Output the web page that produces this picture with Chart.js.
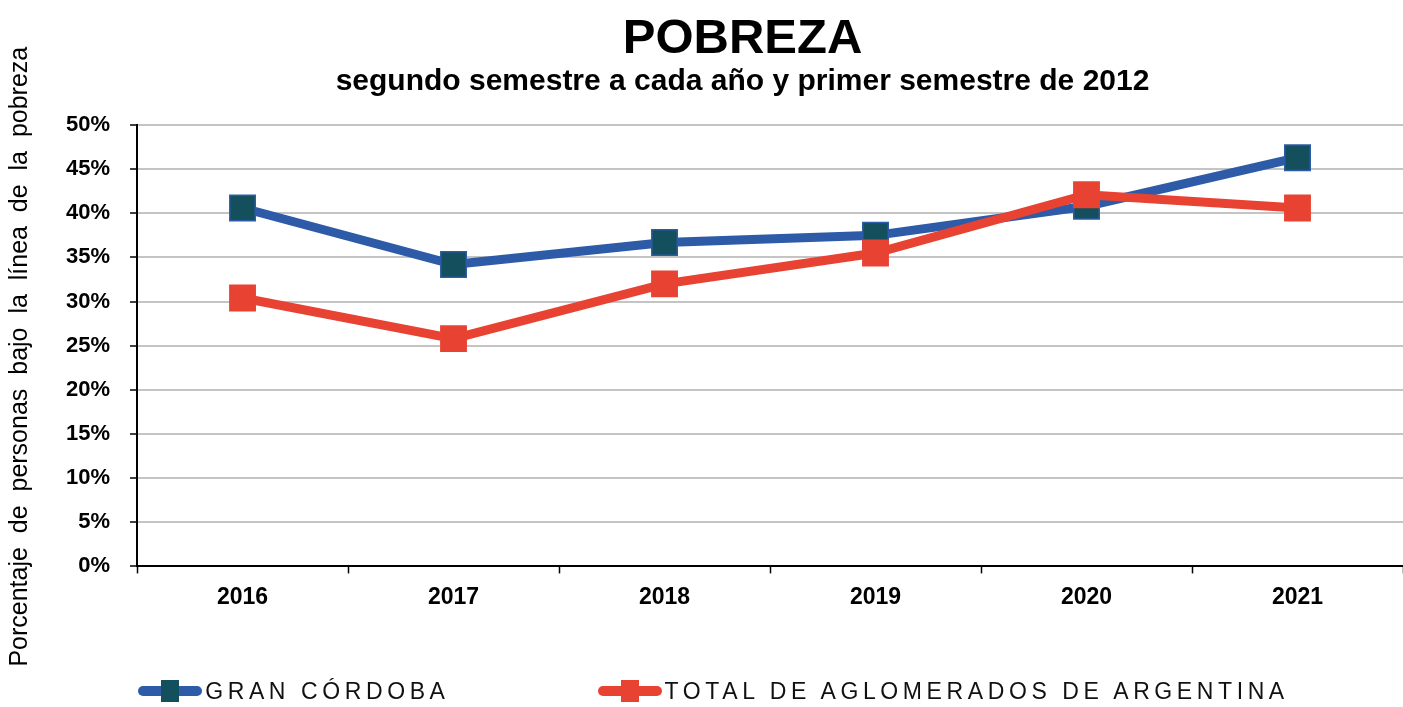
<!DOCTYPE html>
<html>
<head>
<meta charset="utf-8">
<script src="https://cdn.jsdelivr.net/npm/chart.js@4/dist/chart.umd.min.js"></script>
<style>
  html, body { margin: 0; padding: 0; background: #fff; overflow: hidden; }
  #wrap { position: relative; width: 1403px; height: 707px; }
  canvas { display: block; }
  #legend {
    position: absolute; left: 0; top: 676px; width: 1403px; height: 30px;
    box-sizing: border-box; padding-left: 24px;
    display: flex; justify-content: center; align-items: center; gap: 148px;
    font-family: Arial, "Liberation Sans", sans-serif; font-size: 23px;
    letter-spacing: 4.6px; color: #111;
  }
  .item { display: flex; align-items: center; }
  .mark { position: relative; width: 64px; height: 26px; margin-right: 3px; }
  .mark .ln { position: absolute; left: 0; right: 0; top: 8px; height: 10px; border-radius: 5px; }
  .mark .sq { position: absolute; left: 23px; top: 2px; width: 18px; height: 22px; }
</style>
</head>
<body>
<div id="wrap">
  <canvas id="c" width="1403" height="707"></canvas>
  <div id="legend"></div>
</div>
<script>
const years = ["2016", "2017", "2018", "2019", "2020", "2021"];
const granCordoba = [40.6, 34.2, 36.7, 37.5, 40.8, 46.3];
const totalAglomerados = [30.4, 25.8, 32.0, 35.5, 42.1, 40.6];
const yTicks = [0, 5, 10, 15, 20, 25, 30, 35, 40, 45, 50];

const BLUE = "#2d5ba7";
const TEAL = "#134f5c";
const RED = "#e84332";
const FONT = "Arial, 'Liberation Sans', sans-serif";

const legendItems = [
  { label: "GRAN CÓRDOBA", line: BLUE, fill: TEAL },
  { label: "TOTAL DE AGLOMERADOS DE ARGENTINA", line: RED, fill: RED }
];

document.getElementById("legend").innerHTML = legendItems
  .map((it) => `
    <div class="item">
      <div class="mark">
        <div class="ln" style="background:${it.line}"></div>
        <div class="sq" style="background:${it.fill}"></div>
      </div>
      <span>${it.label}</span>
    </div>`)
  .join("");

// titles are a bit off-centre in the original, so draw them by hand
const titleBlock = {
  id: "titleBlock",
  afterDraw(chart) {
    const ctx = chart.ctx;
    const area = chart.chartArea;
    const cx = chart.width / 2 + 41;
    ctx.save();
    ctx.fillStyle = "#000";
    ctx.textAlign = "center";
    ctx.textBaseline = "middle";
    ctx.font = "bold 49px " + FONT;
    ctx.fillText("POBREZA", cx, 39);
    ctx.font = "bold 30px " + FONT;
    ctx.fillText("segundo semestre a cada año y primer semestre de 2012", cx, 82);

    ctx.translate(20, (area.top + area.bottom) / 2 + 11);
    ctx.rotate(-Math.PI / 2);
    ctx.font = "25px " + FONT;
    ctx.fillText("Porcentaje  de  personas  bajo  la  línea  de  la  pobreza", 0, 0);
    ctx.restore();
  }
};

Chart.defaults.font.family = FONT;
Chart.defaults.color = "#000";

new Chart(document.getElementById("c"), {
  type: "line",
  data: {
    labels: years,
    datasets: [
      // red first so it is drawn on top of the blue series
      {
        label: "TOTAL DE AGLOMERADOS DE ARGENTINA",
        data: totalAglomerados,
        borderColor: RED,
        backgroundColor: RED,
        borderWidth: 9,
        pointStyle: "rect",
        pointRadius: 19,
        pointBorderWidth: 0,
        pointBackgroundColor: RED,
        tension: 0
      },
      {
        label: "GRAN CÓRDOBA",
        data: granCordoba,
        borderColor: BLUE,
        backgroundColor: TEAL,
        borderWidth: 9,
        pointStyle: "rect",
        pointRadius: 18,
        pointBorderWidth: 1.5,
        pointBorderColor: BLUE,
        pointBackgroundColor: TEAL,
        tension: 0
      }
    ]
  },
  plugins: [titleBlock],
  options: {
    responsive: false,
    animation: false,
    layout: {
      autoPadding: false,
      // plot runs slightly past the right edge in the original
      padding: { left: 46, right: -8, top: 125, bottom: 86 }
    },
    plugins: {
      legend: { display: false },
      tooltip: { enabled: false }
    },
    scales: {
      x: {
        offset: true,
        afterFit: (scale) => {
          scale.paddingLeft = 0;
          scale.paddingRight = 0;
        },
        grid: {
          offset: true,
          drawOnChartArea: false,
          tickLength: 7,
          tickColor: "#000",
          tickWidth: 1.5
        },
        border: { color: "#000", width: 2 },
        ticks: { font: { size: 23, weight: "bold" }, padding: 10 }
      },
      y: {
        min: 0,
        max: 50,
        afterBuildTicks: (axis) => {
          axis.ticks = yTicks.map((v) => ({ value: v }));
        },
        grid: {
          color: "#c4c4c4",
          lineWidth: 2,
          tickLength: 7,
          tickColor: "#000",
          tickWidth: 1.5
        },
        border: { color: "#000", width: 2 },
        ticks: {
          font: { size: 22, weight: "bold" },
          padding: 20,
          callback: (v) => v + "%"
        }
      }
    }
  }
});
</script>
</body>
</html>
